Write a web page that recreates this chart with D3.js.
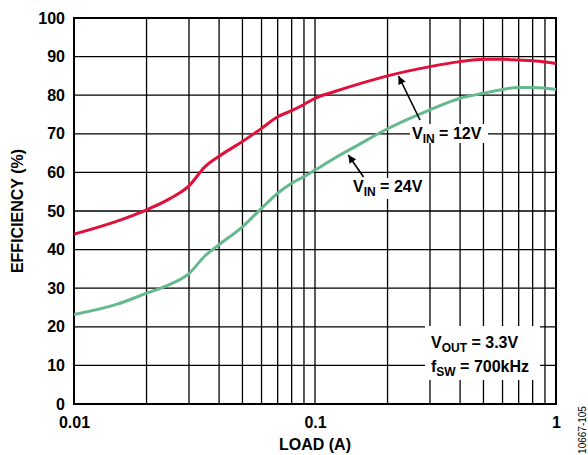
<!DOCTYPE html>
<html>
<head>
<meta charset="utf-8">
<script src="https://cdn.jsdelivr.net/npm/d3@7"></script>
<style>
  body { margin: 0; background: #fff; }
  text { font-family: Arial, "Liberation Sans", Helvetica, sans-serif; font-weight: bold; fill: #000; }
</style>
</head>
<body>
<div id="main-chart"></div>
<script>
const width = 588;
const height = 455;
const margin = { top: 18, bottom: 51, left: 74, right: 32 };

// load current (A)
const loads = [0.01, 0.015, 0.02, 0.025, 0.03, 0.035, 0.04, 0.05, 0.06, 0.07, 0.08, 0.09,
  0.1, 0.12, 0.15, 0.2, 0.3, 0.4, 0.5, 0.6, 0.7, 0.8, 0.9, 1];
// efficiency (%) at VIN = 12V
const eff12 = [44, 47.3, 50.3, 53.2, 56.5, 61.5, 64.2, 68, 71.4, 74.4, 76, 77.6,
  79.2, 80.9, 82.8, 85, 87.4, 88.7, 89.3, 89.3, 89.1, 88.9, 88.6, 88.2];
// efficiency (%) at VIN = 24V
const eff24 = [23.2, 25.8, 28.7, 31, 33.8, 38.4, 41.3, 45.9, 50.7, 54.6, 57.2, 58.9,
  60.6, 63.6, 67, 71.3, 76.2, 79.2, 80.5, 81.5, 82, 82, 81.8, 81.5];

const yTicks = [0, 10, 20, 30, 40, 50, 60, 70, 80, 90, 100];
const xTicks = [0.01, 0.1, 1];
const xTickLabels = ["0.01", "0.1", "1"];

const svg = d3
  .select("#main-chart")
  .append("svg")
  .attr("width", width)
  .attr("height", height);

const x = d3
  .scaleLog()
  .domain([0.01, 1])
  .range([margin.left, width - margin.right]);

const y = d3
  .scaleLinear()
  .domain([0, 100])
  .range([height - margin.bottom, margin.top]);

// grid: every decade step 1..9
const xGrid = [];
for (let d = 0.01; d < 1; d *= 10) {
  for (let k = 1; k < 10; k++) xGrid.push(+(d * k).toPrecision(3));
}
xGrid.push(1);

const grid = svg.append("g").attr("stroke", "#000").attr("stroke-width", 1.3);
grid
  .selectAll("line.v")
  .data(xGrid)
  .join("line")
  .attr("class", "v")
  .attr("x1", (d) => x(d))
  .attr("x2", (d) => x(d))
  .attr("y1", y(0))
  .attr("y2", y(100));
grid
  .selectAll("line.h")
  .data(yTicks)
  .join("line")
  .attr("class", "h")
  .attr("x1", x(0.01))
  .attr("x2", x(1))
  .attr("y1", (d) => y(d))
  .attr("y2", (d) => y(d));

svg
  .append("rect")
  .attr("x", x(0.01))
  .attr("y", y(100))
  .attr("width", x(1) - x(0.01))
  .attr("height", y(0) - y(100))
  .attr("fill", "none")
  .attr("stroke", "#000")
  .attr("stroke-width", 2);

// axes (labels only, no tick marks)
function yAxis(g) {
  g.attr("transform", `translate(${margin.left - 9}, 0)`)
    .call(d3.axisLeft(y).tickValues(yTicks).tickSize(0).tickPadding(0))
    .call((g) => g.select(".domain").remove())
    .attr("font-size", "16px")
    .attr("font-family", null);
}
function xAxis(g) {
  g.attr("transform", `translate(0, ${height - margin.bottom + 13})`)
    .call(d3.axisBottom(x).tickValues(xTicks).tickFormat((d, i) => xTickLabels[i]).tickSize(0).tickPadding(0))
    .call((g) => g.select(".domain").remove())
    .attr("font-size", "16px")
    .attr("font-family", null);
}
svg.append("g").call(yAxis);
svg.append("g").call(xAxis);

svg
  .append("text")
  .attr("x", x(0.1))
  .attr("y", 450)
  .attr("text-anchor", "middle")
  .attr("font-size", "16px")
  .text("LOAD (A)");

svg
  .append("text")
  .attr("transform", `translate(23, ${(y(0) + y(100)) / 2}) rotate(-90)`)
  .attr("text-anchor", "middle")
  .attr("font-size", "16px")
  .text("EFFICIENCY (%)");

svg
  .append("text")
  .attr("transform", "translate(586, 430) rotate(-90)")
  .attr("text-anchor", "middle")
  .attr("font-size", "10px")
  .style("font-weight", "normal")
  .text("10667-105");

// curves
const line = d3
  .line()
  .x((d) => x(d[0]))
  .y((d) => y(d[1]))
  .curve(d3.curveMonotoneX);

const series = [
  { values: eff12, color: "#e0103a" },
  { values: eff24, color: "#66b98f" },
];
svg
  .append("g")
  .selectAll("path")
  .data(series)
  .join("path")
  .attr("fill", "none")
  .attr("stroke", (d) => d.color)
  .attr("stroke-width", 3)
  .attr("d", (d) => line(loads.map((l, i) => [l, d.values[i]])));

// annotations
svg
  .append("defs")
  .append("marker")
  .attr("id", "head")
  .attr("viewBox", "0 0 10 10")
  .attr("refX", 10)
  .attr("refY", 5)
  .attr("markerWidth", 11)
  .attr("markerHeight", 8)
  .attr("markerUnits", "userSpaceOnUse")
  .attr("orient", "auto")
  .append("path")
  .attr("d", "M0,0 L10,5 L0,10 Z")
  .attr("fill", "#000");

function label(g, box, tx, lines) {
  g.append("rect")
    .attr("x", box[0])
    .attr("y", box[1])
    .attr("width", box[2])
    .attr("height", box[3])
    .attr("fill", "#fff");
  lines.forEach(([ty, main, sub, rest]) => {
    const t = g.append("text").attr("x", tx).attr("y", ty).attr("font-size", "16px");
    t.append("tspan").text(main);
    t.append("tspan").attr("font-size", "12px").attr("dy", 4).text(sub);
    t.append("tspan").attr("dy", -4).text(rest);
  });
}

const ann = svg.append("g");
ann
  .append("line")
  .attr("x1", 420)
  .attr("y1", 120)
  .attr("x2", 398.5)
  .attr("y2", 76)
  .attr("stroke", "#000")
  .attr("stroke-width", 1.6)
  .attr("marker-end", "url(#head)");
ann
  .append("line")
  .attr("x1", 363.5)
  .attr("y1", 177)
  .attr("x2", 348.3)
  .attr("y2", 155)
  .attr("stroke", "#000")
  .attr("stroke-width", 1.6)
  .attr("marker-end", "url(#head)");

label(ann, [410, 124, 78, 19], 412, [[139, "V", "IN", " = 12V"]]);
label(ann, [351, 178, 76, 21], 353, [[192, "V", "IN", " = 24V"]]);
label(ann, [425, 326, 115, 54], 431, [
  [348, "V", "OUT", " = 3.3V"],
  [372, "f", "SW", " = 700kHz"],
]);
</script>
</body>
</html>
